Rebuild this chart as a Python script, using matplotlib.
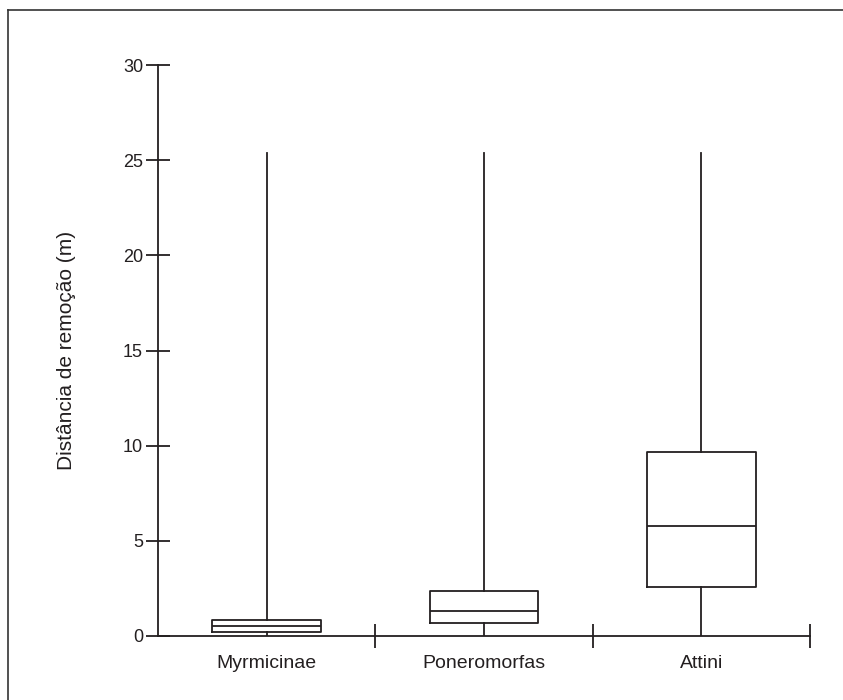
import matplotlib
matplotlib.use("Agg")
import matplotlib.pyplot as plt
from matplotlib.lines import Line2D

plt.rcParams['font.family'] = ['Liberation Sans', 'DejaVu Sans']

# Removal distance summaries per ant group (m)
categories = ["Myrmicinae", "Poneromorfas", "Attini"]
whisker_low = [0.0, 0.0, 0.0]
q1 = [0.2, 0.68, 2.6]
median = [0.53, 1.3, 5.8]
q3 = [0.84, 2.38, 9.67]
whisker_high = [25.4, 25.4, 25.4]
y_ticks = [0, 5, 10, 15, 20, 25, 30]

ink = '#231f20'
lw = 1.3

fig = plt.figure(figsize=(8.43, 7.0), dpi=100)
ax = fig.add_axes([158 / 843, 1 - 636 / 700, 652 / 843, 571 / 700])

stats = []
for name, lo, a, m, b, hi in zip(categories, whisker_low, q1, median, q3, whisker_high):
    stats.append(dict(label=name, whislo=lo, q1=a, med=m, q3=b, whishi=hi, fliers=[]))

positions = [i + 0.5 for i in range(len(categories))]
ax.bxp(stats, positions=positions, widths=0.5, showcaps=False, showfliers=False,
       boxprops=dict(color=ink, linewidth=lw),
       whiskerprops=dict(color=ink, linewidth=lw),
       medianprops=dict(color=ink, linewidth=lw),
       manage_ticks=False)

ax.set_xlim(0, 3)
ax.set_ylim(0, 30)
for side in ('top', 'right'):
    ax.spines[side].set_visible(False)
for side in ('left', 'bottom'):
    ax.spines[side].set_color(ink)
    ax.spines[side].set_linewidth(lw)

ax.set_yticks(y_ticks)
ax.set_yticklabels([str(v) for v in y_ticks])
ax.tick_params(axis='y', direction='inout', length=16.6, width=lw, color=ink,
               pad=2.5, labelsize=13, labelcolor=ink)

ax.set_xticks([1, 2, 3])
ax.set_xticklabels(['', '', ''])
ax.set_xticks(positions, minor=True)
ax.set_xticklabels(categories, minor=True)
ax.tick_params(axis='x', which='major', direction='inout', length=17, width=lw, color=ink)
ax.tick_params(axis='x', which='minor', length=0, pad=14, labelsize=14, labelcolor=ink)

ax.set_ylabel('Distância de remoção (m)', fontsize=15, color=ink)
ax.yaxis.set_label_coords(-0.126, 0.5)

# Outer frame (left and top edges)
fig.add_artist(Line2D([8 / 843, 8 / 843], [0, 1 - 10 / 700], transform=fig.transFigure,
                      color='#333333', linewidth=1.2))
fig.add_artist(Line2D([8 / 843, 1], [1 - 10 / 700, 1 - 10 / 700], transform=fig.transFigure,
                      color='#333333', linewidth=1.2))

fig.savefig('out.png', dpi=100)
